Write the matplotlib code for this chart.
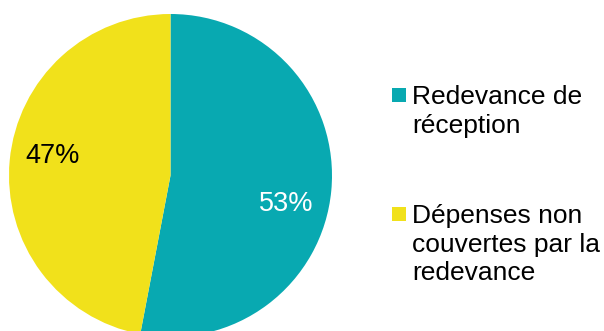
import matplotlib.pyplot as plt
from matplotlib.patches import Rectangle

labels = ['Redevance de\nréception', 'Dépenses non\ncouvertes par la\nredevance']
values = [53, 47]
colors = ['#08A9B1', '#F1E11B']
pct_colors = ['white', 'black']
pct_pos = [(0.719, -0.176), (-0.729, 0.123)]

plt.rcParams['font.family'] = ['Liberation Sans', 'DejaVu Sans']

W, H = 604, 331
fig = plt.figure(figsize=(W / 100, H / 100), dpi=100)
# pie axes in pixel units: centre (170.5, 175.5 from top), radius 161.5
r = 161.5
cx, cy = 170.5, H - 175.5
ax = fig.add_axes([(cx - r) / W, (cy - r) / H, 2 * r / W, 2 * r / H])
wedges, texts, autotexts = ax.pie(values, colors=colors, startangle=90, counterclock=False,
                                  autopct='%.0f%%', pctdistance=0.74,
                                  wedgeprops=dict(linewidth=0),
                                  textprops=dict(fontsize=19.5))
for t, c, p in zip(autotexts, pct_colors, pct_pos):
    t.set_color(c)
    t.set_position(p)
ax.set_xlim(-1, 1)
ax.set_ylim(-1, 1)
ax.set_aspect('equal')
ax.axis('off')

# legend drawn by hand
tops = [88, 207]
for lab, col, top in zip(labels, colors, tops):
    fig.patches.append(Rectangle((392 / W, (H - top - 14) / H), 14 / W, 14 / H,
                                 transform=fig.transFigure, facecolor=col, edgecolor='none'))
    fig.text(412 / W, (H - top + 3) / H, lab, fontsize=19, va='top', ha='left',
             linespacing=1.25)

fig.savefig('out.png', dpi=100)
